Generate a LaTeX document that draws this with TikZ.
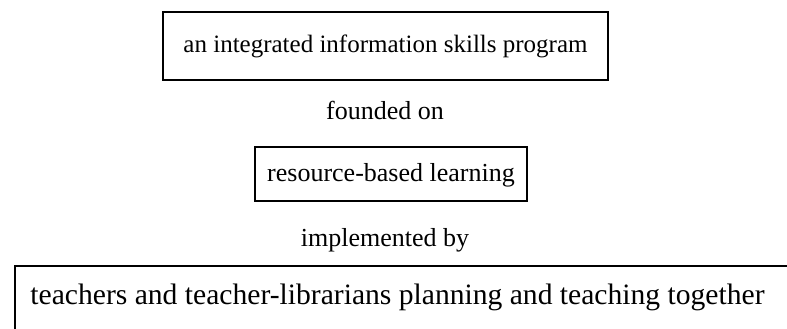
\documentclass[tikz,border=0pt]{standalone}
\usepackage{fontspec}
\setmainfont{Liberation Serif}
\begin{document}
\begin{tikzpicture}[x=1pt,y=1pt,
  label/.style={font=\fontsize{26}{30}\selectfont, inner sep=0pt},
  biglabel/.style={font=\fontsize{29.6}{34}\selectfont, inner sep=0pt},
  frame/.style={draw=black, line width=1.2pt}]
\useasboundingbox (0,0) rectangle (787,329);
\clip (0,0) rectangle (787,329);
% top box
\draw[frame] (163,249) rectangle (608,317);
\node[label, font=\fontsize{25}{29}\selectfont] (program) at (385.5,283) {an integrated information skills program};
\node[label] (founded) at (385,219) {founded on};
% middle box
\draw[frame] (255,128) rectangle (527,182);
\node[label] (resource) at (391,154) {resource-based learning};
\node[label] (implemented) at (385,89) {implemented by};
% bottom box, running off the right and lower edges
\coordinate (bl) at (15,-10);
\coordinate (tl) at (15,63);
\coordinate (tr) at (800,63);
\draw[frame] (bl) -- (tl) -- (tr);
\node[biglabel] (teachers) at (397.5,32) {teachers and teacher-librarians planning and teaching together};
\end{tikzpicture}
\end{document}
